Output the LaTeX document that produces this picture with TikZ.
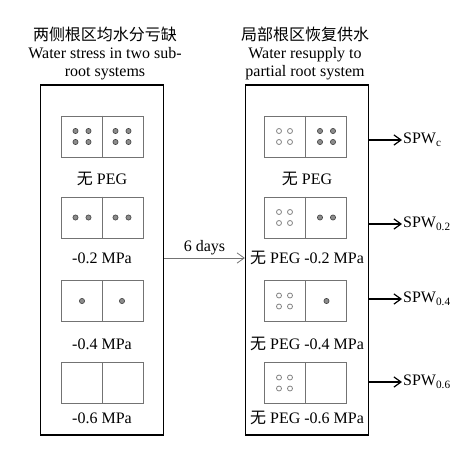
\documentclass[tikz,border=0pt]{standalone}
\usepackage{fontspec}
\setmainfont{Liberation Serif}
\newfontfamily\cjk{Noto Sans CJK SC}
\usetikzlibrary{arrows.meta}

\begin{document}
\begin{tikzpicture}[
  x=1pt, y=-1pt,
  font=\fontsize{16}{18}\selectfont,
  frame/.style={draw, line width=1.3pt, minimum width=123pt, minimum height=350pt, inner sep=0pt},
  pot/.style={draw=black!55, line width=0.9pt, minimum width=82pt, minimum height=41pt, inner sep=0pt},
  lab/.style={inner sep=1pt},
  full/.style={draw=black!75, fill=black!45, line width=0.6pt},
  empty/.style={draw=black!50, line width=0.8pt},
  >={Straight Barb[length=2.5mm,width=3.6mm]}
]
\useasboundingbox (0,0) rectangle (469,456);

% titles
\node[align=center] (ltitle) at (105,53) {{\cjk 两侧根区均水分亏缺}\\Water stress in two sub-\\root systems};
\node[align=center] (rtitle) at (305,53) {{\cjk 局部根区恢复供水}\\Water resupply to\\partial root system};

% outer frames
\node[frame] (lbox) at (102,260) {};
\node[frame] (rbox) at (307,260) {};

% pots
\node[pot] (lp1) at (102,136.5) {};
\node[pot] (lp2) at (102,217.5) {};
\node[pot] (lp3) at (102,301) {};
\node[pot] (lp4) at (102,383) {};
\node[pot] (rp1) at (305.5,136.5) {};
\node[pot] (rp2) at (305.5,217.5) {};
\node[pot] (rp3) at (305.5,301) {};
\node[pot] (rp4) at (305.5,383) {};
\foreach \p in {lp1,lp2,lp3,lp4,rp1,rp2,rp3,rp4}
  \draw[black!55, line width=0.9pt] (\p.north) -- (\p.south);

% roots
\foreach \p/\h in {lp1/-20,lp1/20,rp1/21}
  \foreach \dx in {-6.5,6.5} \foreach \dy in {-5.5,5.5}
    \draw[full] (\p.center) ++(\h+\dx,\dy) circle (2.6);
\foreach \p/\h in {lp2/-20,lp2/20,rp2/21}
  \foreach \dx in {-6.5,6.5}
    \draw[full] (\p.center) ++(\h+\dx,0) circle (2.6);
\foreach \p/\h in {lp3/-20,lp3/20,rp3/21}
  \draw[full] (\p.center) ++(\h,0) circle (2.6);
\foreach \p in {rp1,rp2,rp3,rp4}
  \foreach \dx in {-5.5,5.5} \foreach \dy in {-5.5,5.5}
    \draw[empty] (\p.center) ++(-21+\dx,\dy) circle (2.5);

% labels
\node[lab] (ll1) at (102,179) {{\cjk 无} PEG};
\node[lab] (ll2) at (102,258) {-0.2 MPa};
\node[lab] (ll3) at (102,344) {-0.4 MPa};
\node[lab] (ll4) at (102,418) {-0.6 MPa};
\node[lab] (rl1) at (307,179) {{\cjk 无} PEG};
\node[lab] (rl2) at (307,258) {{\cjk 无} PEG -0.2 MPa};
\node[lab] (rl3) at (307,344) {{\cjk 无} PEG -0.4 MPa};
\node[lab] (rl4) at (307,418) {{\cjk 无} PEG -0.6 MPa};

% outputs
\node[lab, anchor=west] (spc) at (402,140) {SPW\textsubscript{c}};
\node[lab, anchor=west] (sp2) at (402,224) {SPW\textsubscript{0.2}};
\node[lab, anchor=west] (sp4) at (402,299) {SPW\textsubscript{0.4}};
\node[lab, anchor=west] (sp6) at (402,382) {SPW\textsubscript{0.6}};

\draw[->, black!55, line width=0.8pt] (lbox.east |- ll2) -- node[above, black, inner sep=3pt] (days) {6 days} (rbox.west |- ll2);
\foreach \s in {spc,sp2,sp4,sp6}
  \draw[->, line width=1.2pt] (rbox.east |- \s) -- (\s.west);
\end{tikzpicture}
\end{document}
